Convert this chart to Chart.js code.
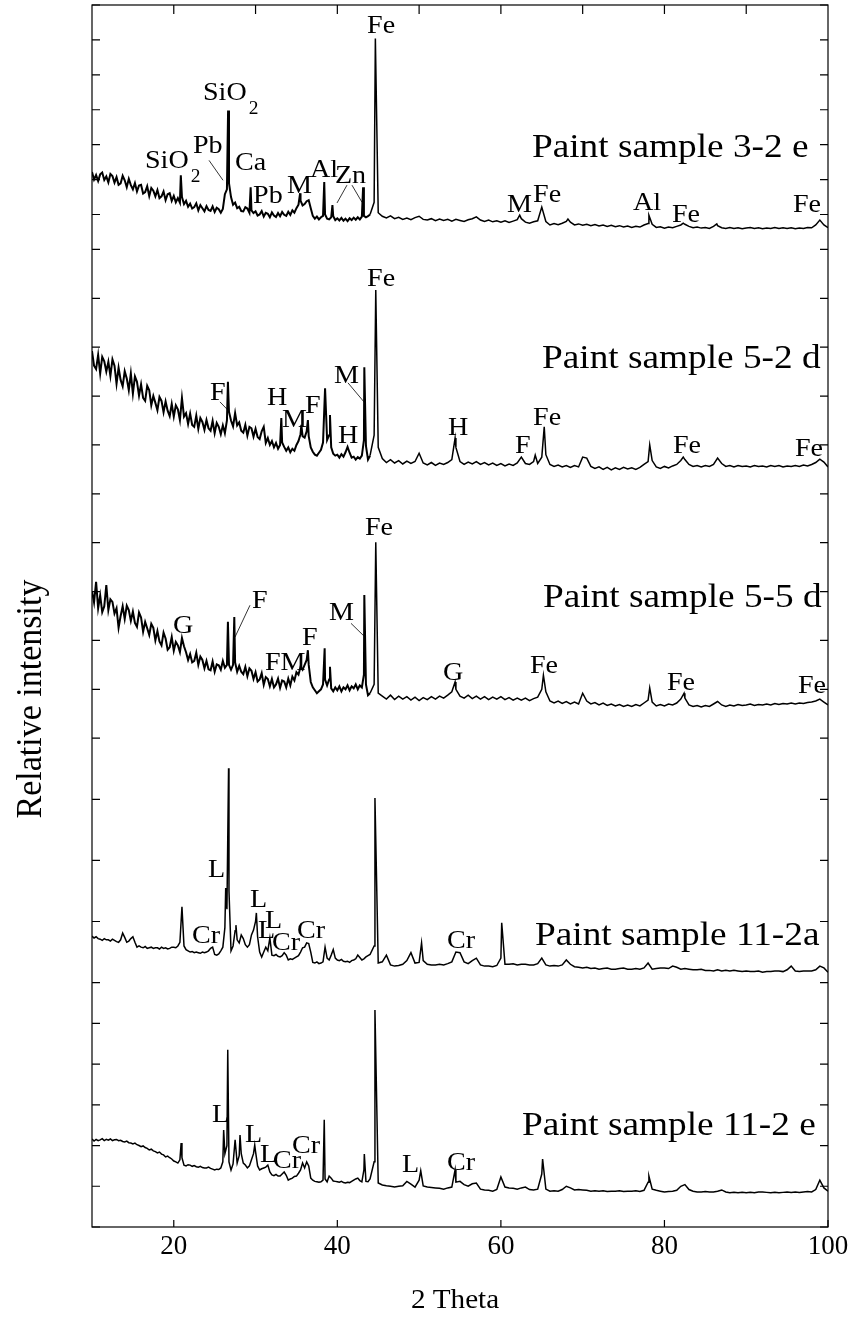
<!DOCTYPE html>
<html>
<head>
<meta charset="utf-8">
<title>XRD paint samples</title>
<script src="https://cdn.jsdelivr.net/npm/chart.js@4.4.0/dist/chart.umd.min.js"></script>
<style>
  body { margin: 0; background: #fff; }
  canvas { display: block; }
</style>
</head>
<body>
<canvas id="xrdChart" width="857" height="1318"></canvas>
<script>
// 2 theta sampling of the traces (fine below 44, coarser above)
const twoTheta = [
  10,10.25,10.5,10.75, 11,11.25,11.5,11.75, 12,12.25,12.5,12.75, 13,13.25,13.5,13.75,
  14,14.25,14.5,14.75, 15,15.25,15.5,15.75, 16,16.25,16.5,16.75, 17,17.25,17.5,17.75,
  18,18.25,18.5,18.75, 19,19.25,19.5,19.75, 20,20.25,20.5,20.75, 21,21.25,21.5,21.75,
  22,22.25,22.5,22.75, 23,23.25,23.5,23.75, 24,24.25,24.5,24.75, 25,25.25,25.5,25.75,
  26,26.25,26.5,26.75, 27,27.25,27.5,27.75, 28,28.25,28.5,28.75, 29,29.25,29.5,29.75,
  30,30.25,30.5,30.75, 31,31.25,31.5,31.75, 32,32.25,32.5,32.75, 33,33.25,33.5,33.75,
  34,34.25,34.5,34.75, 35,35.25,35.5,35.75, 36,36.25,36.5,36.75, 37,37.25,37.5,37.75,
  38,38.25,38.5,38.75, 39,39.25,39.5,39.75, 40,40.25,40.5,40.75, 41,41.25,41.5,41.75,
  42,42.25,42.5,42.75, 43,43.25,43.5,43.75, 44,
  44.5,45,45.5,46,46.5,47,47.5,48,48.5,49, 49.5,50,50.5,51,51.5,52,52.5,53,53.5,54,
  54.5,55,55.5,56,56.5,57,57.5,58,58.5,59, 59.5,60,60.5,61,61.5,62,62.5,63,63.5,64,
  64.5,65,65.5,66,66.5,67,67.5,68,68.5,69, 69.5,70,70.5,71,71.5,72,72.5,73,73.5,74,
  74.5,75,75.5,76,76.5,77,77.5,78,78.5,79, 79.5,80,80.5,81,81.5,82,82.5,83,83.5,84,
  84.5,85,85.5,86,86.5,87,87.5,88,88.5,89, 89.5,90,90.5,91,91.5,92,92.5,93,93.5,94,
  94.5,95,95.5,96,96.5,97,97.5,98,98.5,99, 99.5,100
];

const sampleNames = ['Paint sample 3-2 e', 'Paint sample 5-2 d', 'Paint sample 5-5 d', 'Paint sample 11-2a', 'Paint sample 11-2 e'];
const panelMax = [700, 500, 500, 400, 600];
const xTickLabels = [20, 40, 60, 80, 100];
const xTopTicks = [20, 30, 40, 50, 60, 70, 80, 90];

// intensity on the twoTheta grid, one array per sample
const int3_2e = [
  222,200,213,196, 215,220,199,209, 192,216,210,191, 207,185,189,211,
  198,178,202,184, 172,190,166,183, 185,160,164,181, 153,176,168,152,
  170,147,152,166, 141,158,161,139, 153,135,147,134, 150,130,139,122,
  131,117,121,132, 112,127,118,109, 124,113,110,123, 107,119,115,105,
  116,158,172,190, 150,128,134,118, 122,110,109,121, 117,105,112,104,
  109,97,100,110, 94,105,102,92, 106,97,93,104, 95,107,99,96,
  108,99,112,105, 118,128,140,126, 130,138,141,118, 96,88,94,86,
  92,96,100,88, 86,92,95,84, 89,83,90,82, 88,81,89,84,
  91,85,92,86, 94,96,92,95, 100,
  135,105,95,90,96,88,92,86,90,85, 91,95,86,84,88,82,87,83,86,81,
  86,83,80,85,88,93,84,80,84,79, 82,78,82,77,81,85,88,78,75,79,
  82,121,80,70,74,71,75,80,78,70, 73,69,72,68,71,67,70,66,69,65,
  68,64,67,63,66,64,70,74,72,63, 65,61,64,62,66,70,72,66,62,64,
  61,63,60,66,68,62,60,63,60,62, 59,61,63,60,62,59,61,60,63,60,
  62,60,62,59,61,60,63,62,70,84, 70,62
];
const int5_2d = [
  292,262,255,284, 246,280,271,250, 270,241,275,262, 225,258,233,220,
  251,236,212,246, 205,240,229,201, 224,196,190,221, 212,181,200,186,
  171,198,190,167, 189,170,159,184, 158,181,173,151, 196,158,165,143,
  164,141,137,160, 133,155,147,131, 151,134,129,149, 124,145,137,122,
  140,124,150,168, 150,138,165,140, 146,129,125,141, 119,137,134,117,
  133,116,112,128, 137,104,114,100, 108,95,104,92, 100,105,96,88,
  95,85,92,88, 100,108,122,118, 115,128,118,95, 86,80,78,84,
  90,105,216,110, 120,95,82,78, 80,74,81,76, 85,96,84,74,
  76,70,75,72, 78,110,98,70, 78,
  120,95,72,64,70,63,68,61,67,62, 66,83,63,59,64,58,63,60,64,70,
  95,66,60,65,61,66,60,64,59,63, 58,62,57,61,58,63,75,62,60,66,
  62,75,80,60,56,59,55,58,54,58, 55,75,73,56,52,55,50,54,49,53,
  50,54,51,53,50,54,60,66,68,55, 52,56,53,57,60,68,70,60,56,58,
  55,58,56,60,73,62,56,58,55,58, 56,57,55,58,56,57,55,58,56,58,
  55,57,56,58,56,59,57,60,64,71, 65,55
];
const int5_5d = [
  301,278,320,266, 292,258,270,313, 262,284,279,255, 266,226,250,270,
  244,271,262,240, 259,236,228,257, 247,218,238,225, 211,234,226,200,
  219,198,190,216, 204,181,186,207, 179,197,190,176, 205,188,176,160,
  172,155,158,175, 150,167,160,143, 158,141,139,157, 136,151,149,140,
  158,144,150,150, 140,150,155,136, 148,136,131,146, 127,143,138,121,
  135,116,120,133, 109,125,121,106, 121,104,110,122, 103,118,116,104,
  122,108,126,118, 135,130,146,140, 150,160,150,115, 104,98,92,96,
  100,110,120,108, 120,102,96,104, 98,106,96,104, 100,108,98,106,
  102,110,100,108, 104,130,110,88, 92,
  110,92,86,80,88,79,86,80,85,78, 84,77,83,79,85,80,86,82,88,95,
  100,86,82,88,81,86,80,85,79,84, 80,85,79,83,78,82,78,82,77,81,
  84,100,95,76,72,76,71,75,70,74, 70,92,76,70,73,68,72,67,70,66,
  69,65,68,65,69,66,72,78,74,66, 69,66,70,68,72,80,82,68,65,67,
  64,67,65,70,75,68,65,68,66,69, 67,68,70,67,69,68,70,68,71,69,
  71,70,72,70,72,71,73,74,76,80, 74,68
];
const int11_2a = [
  76,73,75,72, 71,69,72,70, 70,68,71,69, 67,66,70,81,
  74,66,68,72, 75,66,58,60, 58,57,59,56, 57,58,56,57,
  57,55,58,56, 57,55,56,58, 58,57,60,66, 124,60,54,52,
  50,51,49,50, 49,48,50,49, 50,52,56,58, 46,45,47,52,
  58,90,120,150, 52,60,85,70, 65,78,72,62, 58,62,78,86,
  100,75,50,42, 50,58,52,73, 45,44,46,43, 42,44,49,45,
  37,39,38,40, 42,44,50,57, 58,65,64,50, 33,32,34,31,
  32,34,58,40, 37,45,54,40, 37,36,38,35, 34,35,33,36,
  37,39,45,41, 37,39,42,44, 46,
  60,32,34,45,29,27,28,30,36,49, 32,33,36,30,29,29,30,29,31,34,
  50,49,34,31,36,40,29,27,27,26, 28,40,30,30,31,29,30,30,29,29,
  31,40,29,27,28,27,29,37,30,26, 25,24,25,23,24,22,23,24,22,22,
  23,24,22,22,23,22,24,32,22,23, 24,24,23,27,25,22,23,22,21,21,
  22,20,20,19,21,19,20,19,20,19, 18,19,18,18,19,17,18,18,19,19,
  18,21,27,19,18,19,19,19,21,27, 24,17
];
const int11_2e = [
  216,211,215,212, 214,217,212,215, 213,216,212,214, 215,212,213,210,
  209,211,207,206, 204,206,202,200, 197,199,195,193, 189,191,187,185,
  182,184,179,177, 172,174,170,167, 162,160,157,165, 170,152,150,153,
  152,149,151,148, 147,149,146,145, 145,147,144,142, 140,142,141,145,
  160,180,200,160, 140,155,214,157, 175,180,157,152, 145,150,165,180,
  185,150,140,143, 145,147,152,135, 128,126,129,125, 125,130,135,127,
  115,118,120,124, 125,132,140,157, 145,160,150,120, 115,112,111,110,
  111,115,118,111, 125,120,113,112, 111,110,112,109, 108,110,109,112,
  115,118,120,114, 111,140,112,111, 118,
  160,108,103,101,100,98,100,101,112,105, 98,115,101,98,97,96,95,93,96,98,
  110,112,104,100,106,108,93,91,90,88, 92,123,98,96,95,93,96,98,92,91,
  93,130,93,88,89,88,92,100,96,91, 92,91,90,88,89,88,89,87,88,88,
  89,87,88,88,89,87,90,110,93,90, 88,86,87,88,90,100,104,92,88,86,
  86,87,86,86,88,91,86,84,85,84, 85,84,85,84,86,86,85,84,85,84,
  85,86,85,86,85,86,87,86,92,115, 96,88
];

// sharp reflections that fall between grid points
const peakPos3_2e = [20.86, 26.64, 29.4, 35.45, 38.4, 39.4, 43.15, 44.65, 62.3, 68.2, 78.1, 82.3, 86.4];
const peakInt3_2e = [212, 398, 178, 161, 193, 127, 178, 604, 98, 87, 98, 75, 73];
const peakPos5_2d = [26.62, 33.15, 35.6, 36.4, 39.1, 43.3, 44.7, 54.4, 64.2, 65.3, 78.2, 82.3];
const peakInt5_2d = [229, 155, 141, 151, 161, 259, 417, 114, 79, 137, 100, 75];
const peakPos5_5d = [26.62, 27.4, 36.4, 38.45, 39.1, 43.3, 44.7, 54.4, 65.2, 78.2, 82.4];
const peakInt5_5d = [238, 248, 180, 184, 146, 293, 401, 115, 129, 103, 92];
const peakPos11_2a = [26.35, 26.7, 27.6, 30.1, 44.6, 50.3, 60.1];
const peakInt11_2a = [155, 351, 94, 114, 302, 65, 98];
const peakPos11_2e = [20.9, 26.1, 26.6, 28.1, 29.9, 38.4, 43.3, 44.6, 50.2, 54.4, 65.1, 78.1];
const peakInt11_2e = [206, 238, 435, 226, 201, 263, 179, 533, 138, 140, 167, 125];

// phase labels: panel, 2theta, intensity (baseline), text, subscript
const phaseLabels = [
  [0, 16.48, 232, 'SiO', '2'], [0, 22.35, 275, 'Pb'], [0, 23.57, 427, 'SiO', '2'], [0, 27.49, 226, 'Ca'],
  [0, 29.69, 133, 'Pb'], [0, 33.84, 161, 'M'], [0, 36.66, 207, 'Al'], [0, 39.71, 190, 'Zn'],
  [0, 43.63, 621, 'Fe'], [0, 60.75, 107, 'M'], [0, 63.93, 135, 'Fe'], [0, 76.15, 113, 'Al'],
  [0, 80.92, 78, 'Fe'], [0, 95.72, 107, 'Fe'],
  [1, 24.43, 192, 'F'], [1, 31.40, 182, 'H'], [1, 33.23, 137, 'M'], [1, 36.05, 165, 'F'],
  [1, 40.08, 104, 'H'], [1, 39.59, 227, 'M'], [1, 43.63, 425, 'Fe'], [1, 53.53, 120, 'H'],
  [1, 61.72, 83, 'F'], [1, 63.93, 141, 'Fe'], [1, 81.04, 83, 'Fe'], [1, 95.96, 77, 'Fe'],
  [2, 19.90, 215, 'G'], [2, 29.56, 266, 'F'], [2, 31.15, 140, 'FM'], [2, 35.68, 191, 'F'],
  [2, 38.98, 242, 'M'], [2, 43.38, 416, 'Fe'], [2, 52.92, 119, 'G'], [2, 63.56, 134, 'Fe'],
  [2, 80.31, 99, 'Fe'], [2, 96.33, 92, 'Fe'],
  [3, 24.18, 173, 'L'], [3, 22.23, 65, 'Cr'], [3, 29.32, 124, 'L'], [3, 30.30, 73, 'L'],
  [3, 31.15, 89, 'L'], [3, 32.01, 53, 'Cr'], [3, 35.07, 73, 'Cr'], [3, 53.41, 57, 'Cr'],
  [4, 24.67, 258, 'L'], [4, 28.71, 209, 'L'], [4, 30.54, 160, 'L'], [4, 32.13, 145, 'Cr'],
  [4, 34.46, 182, 'Cr'], [4, 47.91, 135, 'L'], [4, 53.41, 140, 'Cr']
];
const sampleLabelPos = [[63.80, 264], [65.03, 257], [65.15, 268], [64.17, 62], [62.58, 226]];
const leaderLines = [
  [0, 24.31, 255, 26.02, 198], [0, 41.18, 184, 39.96, 133], [0, 41.79, 184, 43.02, 135],
  [1, 25.65, 188, 26.63, 171], [1, 41.30, 227, 43.26, 188],
  [2, 29.32, 272, 27.49, 207], [2, 41.67, 235, 43.38, 207]
];

// the three upper scans are much noisier at low angle, drawn a bit heavier there
const noisyBelow = [44, 44, 44, 0, 0];

const serif = "'Liberation Serif', 'Times New Roman', serif";

function buildSeries(bg, peakX, peakY) {
  const pts = twoTheta.map((t, i) => ({ x: t, y: bg[i] }));
  peakX.forEach((t, i) => pts.push({ x: t, y: peakY[i] }));
  pts.sort((a, b) => a.x - b.x);
  return pts;
}

function stretchedText(ctx, text, x, y, size, sx, align) {
  ctx.save();
  ctx.translate(x, y);
  ctx.scale(sx, 1);
  ctx.font = size + 'px ' + serif;
  ctx.textAlign = align || 'left';
  ctx.textBaseline = 'alphabetic';
  ctx.fillText(text, 0, 0);
  const w = ctx.measureText(text).width * sx;
  ctx.restore();
  return w;
}

const decorations = {
  id: 'decorations',
  afterDatasetsDraw(chart) {
    const { ctx, chartArea: a } = chart;
    const xs = chart.scales.x;
    ctx.save();
    ctx.strokeStyle = '#000';
    ctx.fillStyle = '#000';
    ctx.lineWidth = 1.2;
    ctx.strokeRect(a.left, a.top, a.right - a.left, a.bottom - a.top);

    // inward tick marks on all four sides
    ctx.beginPath();
    sampleNames.forEach((n, i) => {
      const ys = chart.scales['y' + i];
      ys.ticks.forEach(t => {
        const y = ys.getPixelForValue(t.value);
        ctx.moveTo(a.left, y); ctx.lineTo(a.left + 8, y);
        ctx.moveTo(a.right, y); ctx.lineTo(a.right - 8, y);
      });
    });
    xTickLabels.forEach(v => {
      const x = xs.getPixelForValue(v);
      ctx.moveTo(x, a.bottom); ctx.lineTo(x, a.bottom - 7);
    });
    xTopTicks.forEach(v => {
      const x = xs.getPixelForValue(v);
      ctx.moveTo(x, a.top); ctx.lineTo(x, a.top + 9);
    });
    ctx.stroke();

    ctx.lineWidth = 0.8;
    ctx.beginPath();
    leaderLines.forEach(([p, x1, v1, x2, v2]) => {
      const ys = chart.scales['y' + p];
      ctx.moveTo(xs.getPixelForValue(x1), ys.getPixelForValue(v1));
      ctx.lineTo(xs.getPixelForValue(x2), ys.getPixelForValue(v2));
    });
    ctx.stroke();

    phaseLabels.forEach(([p, t, v, text, sub]) => {
      const ys = chart.scales['y' + p];
      const x = xs.getPixelForValue(t);
      const y = ys.getPixelForValue(v);
      const w = stretchedText(ctx, text, x, y, 26, 1.08);
      if (sub) stretchedText(ctx, sub, x + w + 2, y + 14, 18, 1.08);
    });

    sampleNames.forEach((name, i) => {
      const ys = chart.scales['y' + i];
      const [t, v] = sampleLabelPos[i];
      stretchedText(ctx, name, xs.getPixelForValue(t), ys.getPixelForValue(v), 33, 1.13);
    });

    stretchedText(ctx, '2 Theta', 455, 1308, 27, 1.08, 'center');

    ctx.save();
    ctx.translate(41, 699);
    ctx.rotate(-Math.PI / 2);
    ctx.scale(1, 1.08);
    ctx.font = '34px ' + serif;
    ctx.textAlign = 'center';
    ctx.fillText('Relative intensity', 0, 0);
    ctx.restore();

    ctx.restore();
  }
};

window.addEventListener('load', function () {
  const ctx = document.getElementById('xrdChart');

  const series = [
    buildSeries(int3_2e, peakPos3_2e, peakInt3_2e),
    buildSeries(int5_2d, peakPos5_2d, peakInt5_2d),
    buildSeries(int5_5d, peakPos5_5d, peakInt5_5d),
    buildSeries(int11_2a, peakPos11_2a, peakInt11_2a),
    buildSeries(int11_2e, peakPos11_2e, peakInt11_2e)
  ];

  const scales = {
    x: {
      type: 'linear',
      min: 10,
      max: 100,
      grid: { display: false, drawTicks: false },
      border: { display: false },
      ticks: { font: { family: serif, size: 27 }, color: '#000', padding: 4 },
      afterBuildTicks: s => { s.ticks = xTickLabels.map(v => ({ value: v })); },
      afterFit: s => { s.height = 91; }
    }
  };
  // the layout stacks these bottom-up, so add the lowest panel first
  for (let i = sampleNames.length - 1; i >= 0; i--) {
    scales['y' + i] = {
      type: 'linear',
      position: 'left',
      stack: 'xrd',
      stackWeight: 1,
      min: 0,
      max: panelMax[i],
      ticks: { display: false, stepSize: 100 },
      grid: { display: false, drawTicks: false },
      border: { display: false },
      afterFit: s => { s.width = 0; }
    };
  }

  const xrdChart = new Chart(ctx, {
    type: 'line',
    data: {
      datasets: sampleNames.map((name, i) => ({
        label: name,
        data: series[i],
        yAxisID: 'y' + i,
        borderColor: '#000',
        borderWidth: 1.5,
        segment: {
          borderWidth: c => (c.p0.parsed.x < noisyBelow[i] ? 2 : 1.5)
        },
        pointRadius: 0,
        fill: false,
        tension: 0
      }))
    },
    options: {
      responsive: false,
      devicePixelRatio: 1,
      animation: false,
      layout: { padding: { left: 92, right: 29, top: 5, bottom: 0 } },
      plugins: { legend: { display: false }, tooltip: { enabled: false } },
      scales: scales
    },
    plugins: [decorations]
  });
});
</script>
</body>
</html>
